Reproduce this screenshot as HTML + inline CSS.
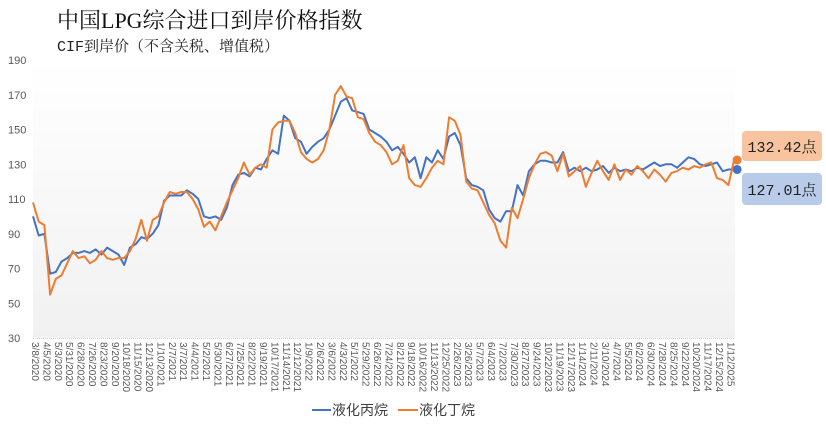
<!DOCTYPE html>
<html><head><meta charset="utf-8"><style>
body{margin:0;background:#fff;width:826px;height:432px;overflow:hidden;font-family:"Liberation Sans","Noto Sans CJK SC",sans-serif;}
svg{display:block}
</style></head><body>
<svg id="chart" width="826" height="432" viewBox="0 0 826 432" xmlns="http://www.w3.org/2000/svg">
<defs><linearGradient id="bg" x1="0" y1="0" x2="0" y2="1"><stop offset="0" stop-color="#ffffff"/><stop offset="1" stop-color="#f1f1f1"/></linearGradient></defs>
<rect x="33" y="60" width="702" height="278" fill="url(#bg)"/>
<line x1="33" y1="338.5" x2="735" y2="338.5" stroke="#d0d0d0" stroke-dasharray="1,1"/>
<text x="57" y="28" font-family="'Liberation Serif','Noto Serif CJK SC',serif" font-size="22" fill="#111">中国LPG综合进口到岸价格指数</text>
<text x="57" y="51" font-family="'Liberation Mono','Noto Serif CJK SC',serif" font-size="15" fill="#222">CIF到岸价（不含关税、增值税）</text>
<g id="yticks"></g><g id="xticks"></g><g id="series"></g>
<rect x="742" y="131" width="80" height="30" rx="4" fill="#f8c4a0"/>
<text x="782" y="152" text-anchor="middle" font-family="'Liberation Mono','Noto Serif CJK SC',serif" font-size="15" fill="#222">132.42点</text>
<rect x="742" y="173" width="80" height="32" rx="4" fill="#b8cbe8"/>
<text x="782" y="195" text-anchor="middle" font-family="'Liberation Mono','Noto Serif CJK SC',serif" font-size="15" fill="#222">127.01点</text>
<g>
<line x1="312" y1="410" x2="331" y2="410" stroke="#4472c4" stroke-width="2"/>
<text x="332" y="415" font-size="14" fill="#404040">液化丙烷</text>
<line x1="398" y1="410" x2="418" y2="410" stroke="#ed7d31" stroke-width="2"/>
<text x="419" y="415" font-size="14" fill="#404040">液化丁烷</text>
</g>
</svg>
<script>
const tickLabels=["3/8/2020","4/5/2020","5/3/2020","5/31/2020","6/28/2020","7/26/2020","8/23/2020","9/20/2020","10/18/2020","11/15/2020","12/13/2020","1/10/2021","2/7/2021","3/7/2021","4/4/2021","5/2/2021","5/30/2021","6/27/2021","7/25/2021","8/22/2021","9/19/2021","10/17/2021","11/14/2021","12/12/2021","1/9/2022","2/6/2022","3/6/2022","4/3/2022","5/1/2022","5/29/2022","6/26/2022","7/24/2022","8/21/2022","9/18/2022","10/16/2022","11/13/2022","12/25/2022","2/26/2023","3/26/2023","5/7/2023","6/4/2023","7/2/2023","7/30/2023","8/27/2023","9/24/2023","10/22/2023","11/19/2023","12/17/2023","1/14/2024","2/11/2024","3/10/2024","4/7/2024","5/5/2024","6/2/2024","6/30/2024","7/28/2024","8/25/2024","9/22/2024","10/20/2024","11/17/2024","12/15/2024","1/12/2025"];
const yTicks=[30,50,70,90,110,130,150,170,190];
const propane=[100,89,90,67,68,74,76,79,79,80,79,81,78,82,80,78,72,82,84,88,87,90,95,109,112,112,112,115,113,110,100,99,100,98,105,118,124,125,123,128,127,133,138,136,158,155,145,143,136,140,143,145,150,158,166,168,161,160,159,150,148,146,143,138,140,136,131,134,122,134,131,138,133,146,148,141,122,118,117,115,104,99,97,103,103,118,112,126,130,132,132,131,131,137,126,128,126,128,126,127,129,125,128,126,127,126,128,127,129,131,129,130,130,128,131,134,133,130,129,130,131,126,127,127.01];
const butane=[108,97,95,55,64,66,73,80,76,77,73,75,80,76,75,76,76,80,87,98,86,98,100,108,114,113,114,114,110,104,94,97,92,100,108,115,122,131,124,128,130,128,150,154,155,155,148,137,133,131,133,138,150,170,175,169,168,157,156,148,143,141,137,130,132,141,122,118,117,122,128,132,130,157,155,147,120,116,115,108,101,96,86,82,105,99,110,122,130,136,137,135,126,136,123,126,129,117,125,132,126,121,130,121,127,124,129,126,122,127,124,120,125,126,128,127,129,128,130,131,122,121,118,132.42];
const X0=33,STEP=5.7,YMIN=30,YMAX=190,YTOP=60,YBOT=338;
const xs=i=>X0+i*STEP;
const ys=v=>YBOT-(v-YMIN)/(YMAX-YMIN)*(YBOT-YTOP);
const NS="http://www.w3.org/2000/svg";
const yg=document.getElementById('yticks');
yTicks.forEach(v=>{const t=document.createElementNS(NS,'text');


t.setAttribute('x',8);t.setAttribute('y',ys(v)+4);t.setAttribute('font-size','11');t.setAttribute('fill','#595959');t.textContent=v;yg.appendChild(t);});
const xg=document.getElementById('xticks');
tickLabels.forEach((l,j)=>{const t=document.createElementNS(NS,'text');


const x=xs(j*2)-1,y=342;t.setAttribute('transform','translate('+x+','+y+') rotate(90)');t.setAttribute('font-size','10');t.setAttribute('fill','#595959');t.textContent=l;xg.appendChild(t);});
const sg=document.getElementById('series');
function line(vals,color,name){const p=document.createElementNS(NS,'polyline');


p.setAttribute('points',vals.map((v,i)=>xs(i).toFixed(1)+','+ys(v).toFixed(1)).join(' '));p.setAttribute('fill','none');p.setAttribute('stroke',color);p.setAttribute('stroke-width','2');p.setAttribute('stroke-linejoin','round');sg.appendChild(p);
const c=document.createElementNS(NS,'circle');


c.setAttribute('cx',xs(vals.length-1)+3);c.setAttribute('cy',ys(vals[vals.length-1]));c.setAttribute('r','4.5');c.setAttribute('fill',color);sg.appendChild(c);}
line(propane,'#4472c4','propane-line');
line(butane,'#ed7d31','butane-line');
</script>
</body></html>
